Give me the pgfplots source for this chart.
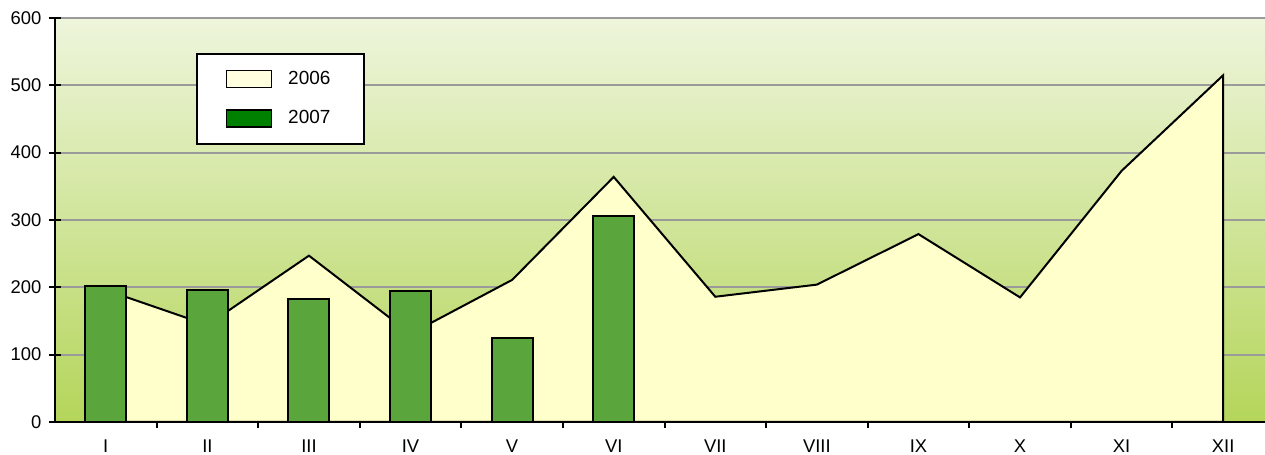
\documentclass[border=0pt]{standalone}
\usepackage{fontspec}
\setmainfont{Liberation Sans}
\usepackage{pgfplots}
\pgfplotsset{compat=1.18}

\definecolor{areafill}{HTML}{FFFFCC}
\definecolor{areaswatch}{HTML}{FFFFE0}
\definecolor{barfill}{HTML}{5AA53C}
\definecolor{barswatch}{HTML}{008000}
\definecolor{gridgray}{HTML}{9A9A9A}
\definecolor{bgtop}{HTML}{EEF5DC}
\definecolor{bgmid}{HTML}{D2E6A4}
\definecolor{bgbot}{HTML}{B4D55A}

% grid below the plots, ticks and axis lines above
\pgfplotsset{
  layers/gridbelow/.define layer set={
    axis background,axis grid,pre main,main,axis ticks,axis lines,
    axis tick labels,axis descriptions,axis foreground
  }{},
}

\begin{document}
\begin{tikzpicture}
\begin{axis}[
    set layers=gridbelow,
    scale only axis,
    width=609.5pt, height=202pt,
    xmin=-0.5, xmax=11.5,
    ymin=0, ymax=600,
    axis x line*=bottom,
    axis y line*=left,
    axis line style={line width=1pt, -},
    axis background/.style={shade, shading=axis, top color=bgtop, middle color=bgmid, bottom color=bgbot},
    ytick={0,100,...,600},
    ymajorgrids,
    major grid style={gridgray, line width=1pt},
    xtick={0.5,1.5,...,10.5},
    xticklabels={},
    extra x ticks={0,1,...,11},
    extra x tick labels={I,II,III,IV,V,VI,VII,VIII,IX,X,XI,XII},
    extra x tick style={tick style={draw=none}},
    tick align=center,
    major tick length=6.5pt,
    tick style={black, line width=1pt},
    /pgf/number format/assume math mode=true,
    tick label style={font=\fontsize{9.2}{11}\selectfont},
    xticklabel style={yshift=-2pt},
    legend style={
        at={(0.1157,0.913)}, anchor=north west,
        draw=black, line width=1pt, fill=white,
        font=\fontsize{9.5}{11}\selectfont,
        inner xsep=14.5pt, inner ysep=6.5pt, row sep=7.5pt,
        /tikz/every odd column/.append style={column sep=6pt},
    },
]

% 2006 (area)
\addplot[draw=black, line width=1pt, fill=areafill,
    legend image code/.code={\draw[fill=areaswatch, line width=0.6pt] (0pt,-4.25pt) rectangle (22.5pt,4.25pt);}]
coordinates {
    (0,196) (1,144) (2,247) (3,131) (4,211) (5,364)
    (6,186) (7,204) (8,279) (9,185) (10,373) (11,515)
} \closedcycle;
\addlegendentry{2006}

% 2007 (bars)
\addplot[ybar, bar width=20.5pt, bar shift=0pt, draw=black, line width=1pt, fill=barfill,
    legend image code/.code={\draw[fill=barswatch, line width=0.6pt] (0pt,-4.25pt) rectangle (22.5pt,4.25pt);}]
coordinates {
    (0,202) (1,196) (2,182) (3,195) (4,125) (5,306)
};
\addlegendentry{2007}

\end{axis}
\pgfresetboundingbox
\path[use as bounding box] ([xshift=-27.5pt,yshift=-16.5pt]current axis.south west) rectangle ([xshift=605pt,yshift=9pt]current axis.north west);
\end{tikzpicture}
\end{document}
